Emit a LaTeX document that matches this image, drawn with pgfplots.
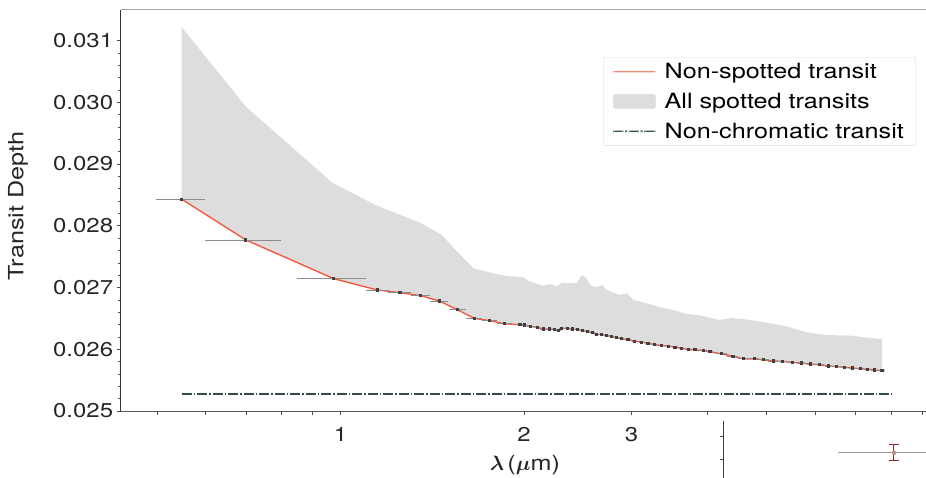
\documentclass[border=0pt]{standalone}
\usepackage{fontspec}
\setmainfont{TeX Gyre Heros}[FakeStretch=1.2]
\usepackage{bm}
\usepackage{pgfplots}
\pgfplotsset{compat=1.18}
\usepgfplotslibrary{fillbetween}
\definecolor{redline}{RGB}{242,90,66}
\definecolor{ncgreen}{RGB}{45,78,78}
\definecolor{errred}{RGB}{140,40,45}
\definecolor{spotgray}{RGB}{221,221,221}
\begin{document}
\begin{tikzpicture}
\begin{axis}[
  at={(0pt,0pt)}, anchor=south west,
  scale only axis, width=829.5pt, height=401.3pt,
  xmode=log, xmin=0.4357, xmax=10, ymin=0.025, ymax=0.0315,
  clip=false,
  axis x line*=bottom, axis y line*=left,
  x axis line style={-, black!65, line width=0.8pt},
  y axis line style={-, black!80, line width=0.8pt},
  xtick={0.5,0.6,0.7,0.8,0.9,1,2,3,4,5,6,7,8,9},
  xticklabels={,,,,,1,2,3,,,,,,},
  minor xtick={},
  ytick={0.025,0.026,0.027,0.028,0.029,0.030,0.031},
  minor y tick num=4,
  scaled y ticks=false,
  /pgf/number format/assume math mode=true,
  yticklabel style={/pgf/number format/.cd, fixed, fixed zerofill, precision=3},
  tick align=outside, major tick length=4pt, minor tick length=2.5pt,
  tick style={black!70, line width=0.6pt},
  tick label style={font=\fontsize{20}{24}\selectfont, text=black!85},
  xticklabel style={yshift=-9pt},
  xlabel={$\bm{\lambda}$\,($\bm{\mu}$m)},
  ylabel={Transit Depth},
  every axis x label/.style={at={(axis description cs:0.4874,-0.1346)}, anchor=center,
    font=\fontsize{21}{25}\selectfont, text=black!85},
  every axis y label/.style={at={(axis description cs:-0.1238,0.5108)}, anchor=center, rotate=90,
    font=\fontsize{21}{25}\selectfont, text=black!85},
  legend style={at={(axis description cs:0.9588,0.8821)}, anchor=north east,
    draw=black!14, rounded corners=2pt, font=\fontsize{21}{25}\selectfont,
    inner xsep=10pt, inner ysep=4pt, row sep=9pt,
    /tikz/every odd column/.append style={column sep=7pt}},
  legend cell align=left,
]
\addlegendimage{no markers, draw=none, legend image code/.code={\fill[redline!70] (0pt,-0.7pt) rectangle (42pt,0.7pt);}}
\addlegendentry{Non-spotted transit}
\addplot[redline, line width=1.4pt, mark=square*, mark size=0.9pt,
  mark options={black!75, solid}, forget plot,
  name path=lower,
  error bars/.cd, x dir=both, x explicit, error mark=none,
  error bar style={black!45, line width=0.8pt}]
coordinates {
(0.5486,0.028430) +- (0.05,0)
(0.699,0.027771) +- (0.1,0)
(0.974,0.027144) +- (0.125,0)
(1.149,0.026960) +- (0.05,0)
(1.251,0.026917) +- (0.053,0)
(1.353,0.026868) +- (0.05,0)
(1.452,0.026782) +- (0.05,0)
(1.554,0.026641) +- (0.05,0)
(1.658,0.026500) +- (0.05,0)
(1.757,0.026463) +- (0.05,0)
(1.858,0.026413) +- (0.05,0)
(1.970,0.026397) +- (0.025,0)
(2.004,0.026392) +- (0.025,0)
(2.050,0.026371) +- (0.025,0)
(2.102,0.026354) +- (0.025,0)
(2.152,0.026327) +- (0.025,0)
(2.199,0.026327) +- (0.025,0)
(2.240,0.026322) +- (0.025,0)
(2.275,0.026304) +- (0.025,0)
(2.304,0.026338) +- (0.025,0)
(2.357,0.026338) +- (0.025,0)
(2.402,0.026327) +- (0.025,0)
(2.448,0.026316) +- (0.025,0)
(2.495,0.026304) +- (0.025,0)
(2.543,0.026288) +- (0.025,0)
(2.593,0.026267) +- (0.025,0)
(2.625,0.026239) +- (0.025,0)
(2.675,0.026239) +- (0.025,0)
(2.727,0.026223) +- (0.025,0)
(2.779,0.026207) +- (0.025,0)
(2.832,0.026186) +- (0.025,0)
(2.887,0.026170) +- (0.025,0)
(2.961,0.026154) +- (0.03,0)
(3.037,0.026131) +- (0.03,0)
(3.114,0.026115) +- (0.03,0)
(3.194,0.026099) +- (0.03,0)
(3.277,0.026071) +- (0.03,0)
(3.361,0.026061) +- (0.03,0)
(3.447,0.026050) +- (0.03,0)
(3.535,0.026034) +- (0.03,0)
(3.626,0.026017) +- (0.03,0)
(3.719,0.025995) +- (0.03,0)
(3.814,0.025990) +- (0.03,0)
(3.937,0.025979) +- (0.05,0)
(4.037,0.025958) +- (0.05,0)
(4.220,0.025925) +- (0.09,0)
(4.401,0.025886) +- (0.09,0)
(4.582,0.025844) +- (0.09,0)
(4.771,0.025844) +- (0.09,0)
(4.944,0.025828) +- (0.09,0)
(5.123,0.025810) +- (0.09,0)
(5.302,0.025802) +- (0.09,0)
(5.506,0.025789) +- (0.09,0)
(5.705,0.025776) +- (0.09,0)
(5.904,0.025760) +- (0.09,0)
(6.108,0.025747) +- (0.09,0)
(6.312,0.025729) +- (0.09,0)
(6.516,0.025719) +- (0.09,0)
(6.716,0.025708) +- (0.09,0)
(6.917,0.025695) +- (0.09,0)
(7.121,0.025684) +- (0.09,0)
(7.320,0.025676) +- (0.09,0)
(7.510,0.025664) +- (0.09,0)
(7.731,0.025651) +- (0.09,0)
};
\addplot[draw=none, name path=upper, forget plot] coordinates {
(0.5486,0.031217) (0.699,0.029930) (0.967,0.028705) (1.139,0.028338)
(1.350,0.028051) (1.465,0.027852) (1.543,0.027609) (1.654,0.027310)
(1.694,0.027284) (1.780,0.027231) (1.873,0.027187) (1.993,0.027166)
(2.031,0.027111) (2.150,0.027025) (2.205,0.027058) (2.262,0.027014)
(2.305,0.027079) (2.440,0.027069) (2.487,0.027203) (2.534,0.027150)
(2.565,0.027041) (2.631,0.027004) (2.682,0.027041) (2.734,0.026960)
(2.804,0.026917) (2.876,0.026879) (2.949,0.026907) (3.023,0.026798)
(3.178,0.026745) (3.341,0.026680) (3.512,0.026636) (3.693,0.026572)
(3.882,0.026551) (4.180,0.026474) (4.383,0.026505) (4.670,0.026479)
(5.036,0.026424) (5.255,0.026393) (5.440,0.026359) (5.797,0.026278)
(5.960,0.026259) (6.275,0.026231) (6.870,0.026220) (7.731,0.026162)
};
\addplot[spotgray, legend image code/.code={\fill[spotgray] (0pt,-7pt) rectangle (42pt,7pt);}]
  fill between[of=upper and lower];
\addlegendentry{All spotted transits}
\addlegendimage{no markers, draw=none, legend image code/.code={
    \fill[ncgreen] (0pt,-0.7pt) rectangle (10pt,0.7pt);
    \fill[ncgreen] (12pt,-0.7pt) rectangle (13.5pt,0.7pt);
    \fill[ncgreen] (15.5pt,-0.7pt) rectangle (25.5pt,0.7pt);
    \fill[ncgreen] (27.5pt,-0.7pt) rectangle (29pt,0.7pt);
    \fill[ncgreen] (31pt,-0.7pt) rectangle (42pt,0.7pt);}}
\addlegendentry{Non-chromatic transit\hspace{12pt}}
\addplot[ncgreen, line width=1.4pt, dash pattern=on 10pt off 2pt on 1.5pt off 2pt, forget plot]
  coordinates {(0.5486,0.025275) (8.02,0.025275)};
% stray elements below the axis
\addplot[black!75, line width=1pt, forget plot] coordinates {(4.246,0.024838) (4.246,0.0237)};
\addplot[black!75, line width=0.8pt, forget plot] coordinates {(4.194,0.024584) (4.246,0.024584)};
\addplot[black!75, line width=0.8pt, forget plot] coordinates {(4.194,0.024222) (4.246,0.024222)};
\addplot[black!40, line width=1pt, forget plot] coordinates {(6.551,0.024324) (10,0.024324)};
\addplot[errred, only marks, mark=*, mark size=2pt, mark options={fill=errred!55, draw=errred!55}, forget plot,
  error bars/.cd, y dir=both, y explicit,
  error bar style={errred, line width=1pt},
  error mark options={errred, rotate=90, mark size=5pt, line width=1pt}]
  coordinates {(8.087,0.024324) +- (0,0.00013)};
\draw[black!35, line width=0.6pt] (rel axis cs:0,1) -- (rel axis cs:1,1);
\end{axis}
\pgfresetboundingbox
\useasboundingbox (-120.7pt,-67pt) rectangle (805.3pt,411pt);
\end{tikzpicture}
\end{document}
